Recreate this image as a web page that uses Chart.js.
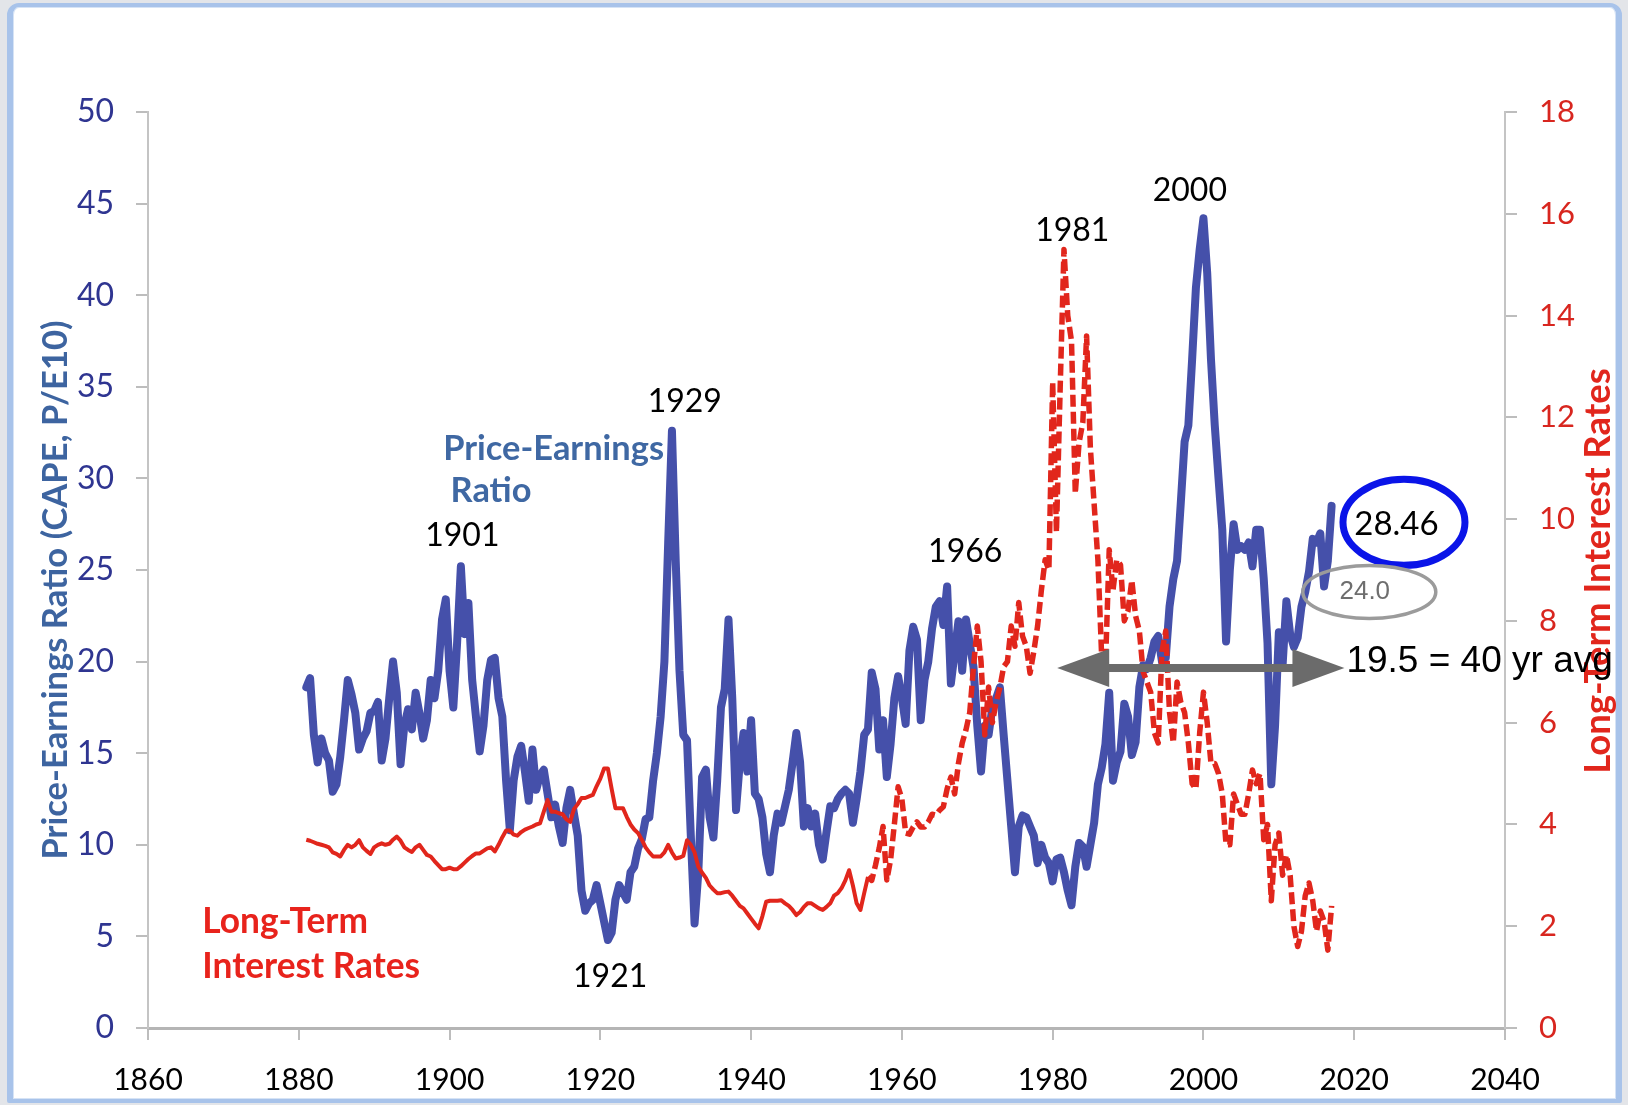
<!DOCTYPE html>
<html>
<head>
    <title>CAPE and Long-Term Interest Rates</title>
    <script src="https://cdn.jsdelivr.net/npm/chart.js"></script>
    <style>
        body { margin: 0; background: #e3e5e9; }
        #frame {
            position: absolute; left: 7px; top: 3px; width: 1615px; height: 1100px;
            box-sizing: border-box; background: #fff;
            border: 6px solid #a8c3ea; border-top-width: 4px; border-bottom-width: 4px;
            border-radius: 12px 12px 2px 2px;
            box-shadow: inset 0 0 0 1px #d6e3f5;
        }
        #dataChart { position: absolute; left: 0; top: 0; }
    </style>
</head>
<body>
    <div id="frame"></div>
    <canvas id="dataChart" width="1628" height="1105"></canvas>

    <script>
        // half-year samples, starting Jan 1881
        const startYear = 1881;
        const stepYears = 0.5;
        const dashFromYear = 1955.5; // rate line drawn dashed after this

        // Shiller CAPE (P/E10)
        const capeValues = [
            18.6, 19.1, 16.0, 14.5, 15.8, 15.0, 14.6, 12.9, 13.3, 14.8,   // 1881-85
            16.8, 19.0, 18.2, 17.2, 15.2, 15.8, 16.2, 17.2, 17.3, 17.8,   // 1886-90
            14.6, 15.8, 18.0, 20.0, 18.3, 14.4, 16.5, 17.4, 16.3, 18.3,   // 1891-95
            17.2, 15.8, 16.8, 19.0, 18.0, 19.5, 22.3, 23.4, 19.5, 17.5,   // 1896-1900
            21.0, 25.2, 21.5, 23.2, 19.0, 17.0, 15.1, 16.5, 19.0, 20.1,   // 1901-05
            20.2, 18.0, 17.0, 13.5, 10.8, 13.5, 14.8, 15.4, 14.0, 12.4,   // 1906-10
            15.2, 13.0, 13.8, 14.1, 12.8, 11.5, 12.2, 11.0, 10.1, 12.0,   // 1911-15
            13.0, 11.7, 10.5, 7.5, 6.4, 6.8, 7.0, 7.8, 6.8, 5.8,          // 1916-20
            4.8, 5.2, 7.0, 7.8, 7.4, 7.0, 8.5, 8.8, 9.8, 10.3,            // 1921-25
            11.4, 11.5, 13.5, 15.0, 17.0, 20.0, 26.5, 32.6, 25.5, 19.5,   // 1926-30
            16.0, 15.7, 10.5, 5.7, 8.5, 13.7, 14.1, 11.5, 10.4, 13.5,     // 1931-35
            17.5, 18.5, 22.3, 18.0, 11.9, 14.5, 16.1, 14.0, 16.8, 12.8,   // 1936-40
            12.5, 11.5, 9.5, 8.5, 10.5, 11.7, 11.2, 12.1, 13.0, 14.5,     // 1941-45
            16.1, 14.5, 11.0, 12.0, 11.0, 11.7, 10.0, 9.2, 10.7, 12.1,    // 1946-50
            12.0, 12.5, 12.8, 13.0, 12.8, 11.2, 12.5, 14.0, 16.0, 16.3,   // 1951-55
            19.4, 18.5, 15.2, 16.8, 13.7, 15.5, 18.0, 19.2, 18.0, 16.6,   // 1956-60
            20.6, 21.9, 21.2, 16.8, 19.0, 20.0, 21.8, 23.0, 23.3, 22.0,   // 1961-65
            24.1, 18.8, 20.5, 22.2, 19.5, 22.3, 21.0, 19.7, 16.5, 14.0,   // 1966-70
            16.5, 16.0, 17.5, 18.0, 18.6, 16.0, 13.5, 11.0, 8.5, 11.0,    // 1971-75
            11.6, 11.5, 11.0, 10.5, 9.0, 10.0, 9.3, 9.0, 8.0, 9.2,        // 1976-80
            9.3, 8.5, 7.5, 6.7, 8.8, 10.1, 9.9, 8.8, 10.0, 11.2,          // 1981-85
            13.3, 14.2, 15.5, 18.3, 13.5, 14.5, 15.1, 17.7, 17.0, 14.9,   // 1986-90
            15.6, 18.6, 19.8, 19.6, 20.2, 21.1, 21.4, 20.0, 20.2, 23.0,   // 1991-95
            24.5, 25.5, 28.7, 32.0, 32.9, 36.5, 40.4, 42.5, 44.2, 41.2,   // 1996-2000
            36.5, 32.9, 30.0, 27.2, 21.1, 25.0, 27.5, 26.1, 26.3, 26.1,   // 2001-05
            26.5, 25.2, 27.2, 27.2, 24.5, 21.0, 13.3, 16.5, 21.6, 19.8,   // 2006-10
            23.3, 21.5, 20.8, 21.3, 23.0, 23.8, 24.9, 26.7, 26.5, 27.0,   // 2011-15
            24.1, 25.5, 28.5                                              // 2016-17
        ];

        // long-term interest rate, percent
        const rateValues = [
            3.70, 3.68, 3.65, 3.62, 3.60, 3.58, 3.55, 3.45, 3.42, 3.37,   // 1881-85
            3.50, 3.60, 3.55, 3.60, 3.69, 3.55, 3.48, 3.42, 3.55, 3.60,   // 1886-90
            3.63, 3.60, 3.62, 3.70, 3.76, 3.68, 3.55, 3.50, 3.46, 3.55,   // 1891-95
            3.60, 3.50, 3.40, 3.37, 3.28, 3.20, 3.12, 3.12, 3.15, 3.12,   // 1896-1900
            3.12, 3.18, 3.25, 3.32, 3.38, 3.43, 3.43, 3.48, 3.53, 3.55,   // 1901-05
            3.47, 3.60, 3.75, 3.88, 3.88, 3.80, 3.78, 3.85, 3.90, 3.93,   // 1906-10
            3.96, 4.00, 4.02, 4.25, 4.48, 4.25, 4.25, 4.22, 4.20, 4.10,   // 1911-15
            4.05, 4.30, 4.40, 4.52, 4.52, 4.55, 4.58, 4.75, 4.90, 5.10,   // 1916-20
            5.10, 4.70, 4.32, 4.32, 4.32, 4.15, 4.00, 3.90, 3.83, 3.70,   // 1921-25
            3.55, 3.45, 3.37, 3.37, 3.37, 3.45, 3.60, 3.45, 3.33, 3.35,   // 1926-30
            3.38, 3.69, 3.60, 3.45, 3.17, 3.05, 2.95, 2.80, 2.72, 2.65,   // 1931-35
            2.65, 2.67, 2.68, 2.60, 2.50, 2.40, 2.35, 2.25, 2.15, 2.05,   // 1936-40
            1.96, 2.20, 2.48, 2.50, 2.50, 2.50, 2.51, 2.45, 2.40, 2.32,   // 1941-45
            2.22, 2.28, 2.38, 2.45, 2.45, 2.40, 2.35, 2.32, 2.38, 2.45,   // 1946-50
            2.60, 2.65, 2.75, 2.90, 3.10, 2.80, 2.45, 2.32, 2.65, 2.97,   // 1951-55
            2.90, 3.20, 3.54, 3.96, 2.91, 3.30, 4.00, 4.74, 4.50, 3.83,   // 1956-60
            3.81, 3.95, 4.05, 3.95, 3.95, 4.05, 4.20, 4.18, 4.28, 4.35,   // 1961-65
            4.70, 4.93, 4.60, 5.20, 5.60, 5.86, 6.20, 7.10, 7.90, 7.20,   // 1966-70
            5.76, 6.70, 6.00, 6.40, 6.69, 7.10, 7.20, 7.90, 7.50, 8.36,   // 1971-75
            7.70, 7.50, 6.97, 7.40, 7.90, 8.60, 9.20, 9.00, 12.70, 9.74,  // 1976-80
            12.60, 15.30, 14.00, 13.50, 10.50, 11.50, 11.90, 13.60, 11.40, 10.30, // 1981-85
            9.20, 7.30, 7.10, 9.40, 8.60, 9.20, 9.10, 8.00, 8.20, 8.80,   // 1986-90
            8.10, 7.80, 7.00, 6.80, 6.60, 5.80, 5.60, 7.40, 7.80, 6.20,   // 1991-95
            5.60, 6.80, 6.40, 6.20, 5.60, 4.80, 4.70, 5.80, 6.60, 6.00,   // 1996-2000
            5.20, 5.20, 5.00, 4.60, 3.60, 3.60, 4.60, 4.40, 4.20, 4.20,   // 2001-05
            4.60, 5.07, 4.80, 5.00, 3.70, 4.00, 2.50, 3.60, 3.83, 3.00,   // 2006-10
            3.40, 3.00, 2.00, 1.60, 1.90, 2.60, 2.85, 2.50, 1.90, 2.30,   // 2011-15
            2.10, 1.53, 2.40                                              // 2016-17
        ];

        const xTicks = [1860, 1880, 1900, 1920, 1940, 1960, 1980, 2000, 2020, 2040];
        const peTicks = [0, 5, 10, 15, 20, 25, 30, 35, 40, 45, 50];
        const rateTicks = [0, 2, 4, 6, 8, 10, 12, 14, 16, 18];

        const peakYears = ['1901', '1929', '1921', '1966', '1981', '2000'];
        const currentCape = '28.46';
        const earlierCape = '24.0';
        const avgCape = 19.5;

        const toPoints = vals => vals.map((v, i) => ({ x: startYear + i * stepYears, y: v }));

        const BLUE = '#4550aa';
        const RED = '#e1261c';

        function fitFont(ctx, text, weight, family, width) {
            ctx.font = `${weight} 100px ${family}`;
            const size = 100 * width / ctx.measureText(text).width;
            return `${weight} ${size.toFixed(1)}px ${family}`;
        }

        function upText(ctx, text, cx, cy, font, color) {
            ctx.save();
            ctx.translate(cx, cy);
            ctx.rotate(-Math.PI / 2);
            ctx.font = font;
            ctx.fillStyle = color;
            ctx.textAlign = 'center';
            ctx.textBaseline = 'middle';
            ctx.fillText(text, 0, 0);
            ctx.restore();
        }

        function arrowHead(ctx, tipX, y, dir, len, half) {
            ctx.beginPath();
            ctx.moveTo(tipX, y);
            ctx.lineTo(tipX - dir * len, y - half);
            ctx.lineTo(tipX - dir * len, y + half);
            ctx.closePath();
            ctx.fill();
        }

        // titles and notes on top of the chart
        const notes = {
            id: 'notes',
            afterDraw(chart) {
                const ctx = chart.ctx;
                const sx = chart.scales.x, sy = chart.scales.y;
                const px = v => sx.getPixelForValue(v);
                const py = v => sy.getPixelForValue(v);
                ctx.save();

                upText(ctx, 'Price-Earnings Ratio (CAPE, P/E10)', 56, 590,
                    fitFont(ctx, 'Price-Earnings Ratio (CAPE, P/E10)', 'bold', 'Lato', 540), '#3d64a0');
                upText(ctx, 'Long-Term Interest Rates', 1598, 571,
                    fitFont(ctx, 'Long-Term Interest Rates', 'bold', 'Lato', 405), RED);

                ctx.textAlign = 'center';
                ctx.textBaseline = 'middle';
                ctx.fillStyle = '#000';
                ctx.font = '32px Lato';
                const peakPos = [[1901.7, 26.9], [1931.2, 34.2], [1921.3, 2.8],
                                 [1968.4, 26.0], [1982.6, 43.5], [1998.2, 45.7]];
                peakYears.forEach((t, i) => ctx.fillText(t, px(peakPos[i][0]), py(peakPos[i][1])));

                ctx.fillStyle = '#3f68a3';
                ctx.font = fitFont(ctx, 'Price-Earnings', 'bold', 'Lato', 221);
                ctx.fillText('Price-Earnings', px(1913.8), py(31.6));
                ctx.fillText('Ratio', px(1905.5), py(29.3));

                ctx.fillStyle = '#e8231c';
                ctx.textAlign = 'left';
                ctx.font = fitFont(ctx, 'Interest Rates', 'bold', 'Lato', 218);
                ctx.fillText('Long-Term', px(1867.2), py(5.8));
                ctx.fillText('Interest Rates', px(1867.2), py(3.35));

                // 40 year average arrow
                const ay = py(19.65), ax0 = px(1980.6), ax1 = px(2018.7);
                ctx.fillStyle = '#6b6b6b';
                ctx.fillRect(ax0 + 40, ay - 4, ax1 - ax0 - 80, 8);
                arrowHead(ctx, ax0, ay, -1, 52, 19);
                arrowHead(ctx, ax1, ay, 1, 52, 19);

                ctx.fillStyle = '#000';
                ctx.font = '37px "Liberation Sans"';
                ctx.fillText(avgCape + ' = 40 yr avg', ax1 + 2, ay - 6);

                // current value, circled
                ctx.lineWidth = 7;
                ctx.strokeStyle = '#0a14e8';
                ctx.beginPath();
                ctx.ellipse(px(2026.6), py(27.6), 61, 43, 0, 0, Math.PI * 2);
                ctx.stroke();
                ctx.textAlign = 'center';
                ctx.font = '33px Lato';
                ctx.fillText(currentCape, px(2025.6), py(27.5));

                ctx.lineWidth = 3.5;
                ctx.strokeStyle = '#9b9b9b';
                ctx.beginPath();
                ctx.ellipse(px(2022.0), py(23.8), 66.5, 26.5, 0, 0, Math.PI * 2);
                ctx.stroke();
                ctx.fillStyle = '#6e6e6e';
                ctx.font = '26px "Liberation Sans"';
                ctx.fillText(earlierCape, px(2021.4), py(23.8));

                ctx.restore();
            }
        };

        const ctx = document.getElementById('dataChart').getContext('2d');
        const chart = new Chart(ctx, {
            type: 'line',
            data: {
                datasets: [{
                    label: 'Long-Term Interest Rates',
                    data: toPoints(rateValues),
                    yAxisID: 'y2',
                    borderColor: RED,
                    borderWidth: 4,
                    borderJoinStyle: 'round',
                    pointRadius: 0,
                    segment: {
                        borderDash: c => c.p0.parsed.x >= dashFromYear ? [12, 5] : undefined,
                        borderWidth: c => c.p0.parsed.x >= dashFromYear ? 5.5 : 4
                    }
                }, {
                    label: 'Price-Earnings Ratio',
                    data: toPoints(capeValues),
                    yAxisID: 'y',
                    borderColor: BLUE,
                    borderWidth: 8,
                    borderJoinStyle: 'round',
                    borderCapStyle: 'round',
                    pointRadius: 0
                }]
            },
            options: {
                responsive: false,
                animation: false,
                layout: { padding: { top: 112, left: 0, right: 0, bottom: 0 } },
                plugins: { legend: { display: false }, tooltip: { enabled: false } },
                scales: {
                    x: {
                        type: 'linear',
                        min: xTicks[0],
                        max: xTicks[xTicks.length - 1],
                        afterBuildTicks: s => { s.ticks = xTicks.map(v => ({ value: v })); },
                        afterFit: s => { s.height = 77; },
                        ticks: { color: '#000', font: { family: 'Lato', size: 30 }, padding: 22,
                                 maxRotation: 0, callback: v => String(v) },
                        grid: { drawOnChartArea: false, tickLength: 12, color: '#bdbdbd', lineWidth: 2 },
                        border: { color: '#b5b5b5', width: 3 }
                    },
                    y: {
                        position: 'left',
                        min: peTicks[0],
                        max: peTicks[peTicks.length - 1],
                        afterBuildTicks: s => { s.ticks = peTicks.map(v => ({ value: v })); },
                        afterFit: s => { s.width = 148; },
                        ticks: { color: '#2f3591', font: { family: 'Lato', size: 32 }, padding: 22 },
                        grid: { drawOnChartArea: false, tickLength: 12, color: '#bdbdbd', lineWidth: 2 },
                        border: { color: '#c4c4c4', width: 2 }
                    },
                    y2: {
                        position: 'right',
                        min: rateTicks[0],
                        max: rateTicks[rateTicks.length - 1],
                        afterBuildTicks: s => { s.ticks = rateTicks.map(v => ({ value: v })); },
                        afterFit: s => { s.width = 123; },
                        ticks: { color: '#d8261f', font: { family: 'Lato', size: 31 }, padding: 22 },
                        grid: { drawOnChartArea: false, tickLength: 12, color: '#bdbdbd', lineWidth: 2 },
                        border: { color: '#c4c4c4', width: 2 }
                    }
                }
            },
            plugins: [notes]
        });
    </script>
</body>
</html>
